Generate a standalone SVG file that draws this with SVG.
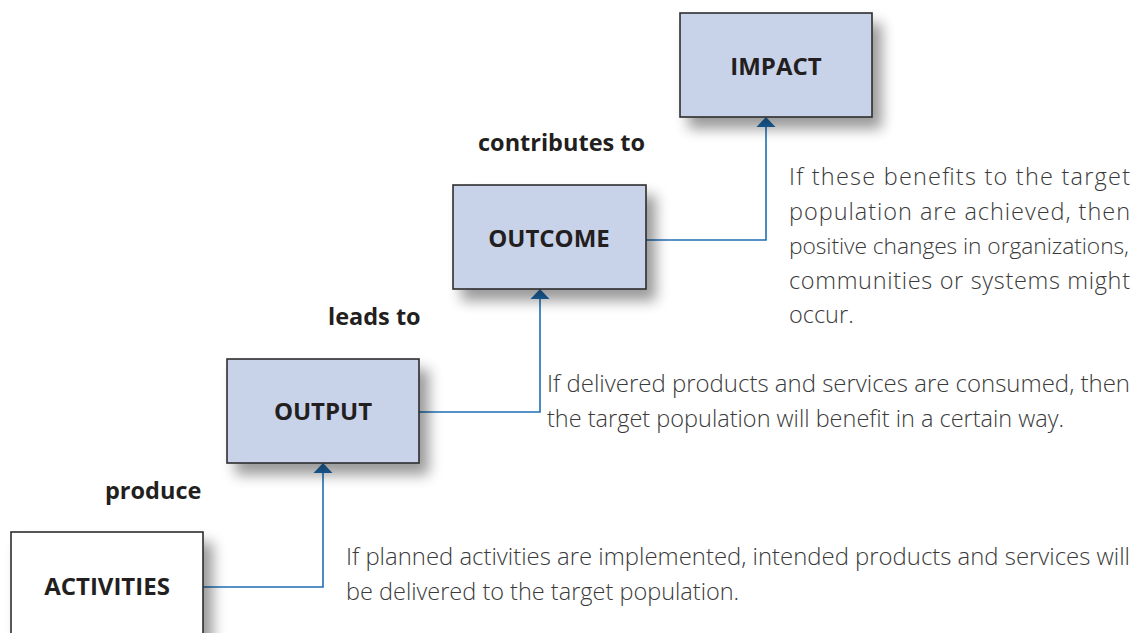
<svg xmlns="http://www.w3.org/2000/svg" width="1137" height="633" viewBox="0 0 1137 633">
  <style>
    .box { fill: #c8d3ea; stroke: #2e2e2e; stroke-width: 1.6; }
    .box-plain { fill: #ffffff; stroke: #2e2e2e; stroke-width: 1.6; }
    .name { font-family: "Open Sans", "Liberation Sans", sans-serif; font-weight: 700; font-size: 24px; fill: #231f20; text-anchor: middle; }
    .verb { font-family: "Open Sans", "Liberation Sans", sans-serif; font-weight: 700; font-size: 23.5px; fill: #231f20; }
    .note { font-family: "Open Sans", "Liberation Sans", sans-serif; font-weight: 300; font-size: 23.5px; fill: #3a3a3a; }
    .note-tight { font-size: 22.8px; }
    .link { fill: none; stroke: #1f6fb5; stroke-width: 1.6; }
    .head { fill: #1f6fb5; }
  </style>
  <defs>
    <filter id="shadow" x="-20%" y="-20%" width="160%" height="170%">
      <feGaussianBlur in="SourceAlpha" stdDeviation="7"/>
      <feOffset dx="9" dy="11"/>
      <feComponentTransfer>
        <feFuncA type="linear" slope="0.4"/>
      </feComponentTransfer>
      <feMerge>
        <feMergeNode/>
        <feMergeNode in="SourceGraphic"/>
      </feMerge>
    </filter>
  </defs>

  <!-- connectors: each runs right from a box, then up into the next box -->
  <g id="connectors">
    <path class="link" d="M203,587 H323 V473"/>
    <path class="head" d="M313.5,473 L323,463 L332.5,473 Z"/>
    <path class="link" d="M419,412 H540 V299"/>
    <path class="head" d="M530.5,299 L540,289 L549.5,299 Z"/>
    <path class="link" d="M646,240 H766 V127"/>
    <path class="head" d="M756.5,127 L766,117 L775.5,127 Z"/>
  </g>

  <g id="activities">
    <rect class="box-plain" x="11" y="532" width="192" height="120" filter="url(#shadow)"/>
    <text class="name" x="107" y="595">ACTIVITIES</text>
  </g>

  <g id="output">
    <rect class="box" x="227" y="359" width="192" height="104" filter="url(#shadow)"/>
    <text class="name" x="323" y="420">OUTPUT</text>
  </g>

  <g id="outcome">
    <rect class="box" x="453" y="185" width="193" height="104" filter="url(#shadow)"/>
    <text class="name" x="549" y="247">OUTCOME</text>
  </g>

  <g id="impact">
    <rect class="box" x="680" y="13" width="192" height="104" filter="url(#shadow)"/>
    <text class="name" x="776" y="75">IMPACT</text>
  </g>

  <!-- relation labels -->
  <g id="verbs">
    <text class="verb" x="105" y="499">produce</text>
    <text class="verb" x="328" y="325">leads to</text>
    <text class="verb" x="478" y="151">contributes to</text>
  </g>

  <!-- explanatory notes, justified lines stretched to a common right edge -->
  <g id="notes">
    <text class="note" x="346" y="565" textLength="784" lengthAdjust="spacingAndGlyphs">If planned activities are implemented, intended products and services will</text>
    <text class="note" x="346" y="600">be delivered to the target population.</text>

    <text class="note" x="547" y="392" textLength="583" lengthAdjust="spacingAndGlyphs">If delivered products and services are consumed, then</text>
    <text class="note" x="547" y="427">the target population will benefit in a certain way.</text>

    <text class="note" x="789" y="185" textLength="341" lengthAdjust="spacing">If these benefits to the target</text>
    <text class="note" x="789" y="220" textLength="341" lengthAdjust="spacing">population are achieved, then</text>
    <text class="note note-tight" x="789" y="254" textLength="340" lengthAdjust="spacing">positive changes in organizations,</text>
    <text class="note" x="789" y="289" textLength="341" lengthAdjust="spacing">communities or systems might</text>
    <text class="note" x="789" y="323">occur.</text>
  </g>
</svg>
